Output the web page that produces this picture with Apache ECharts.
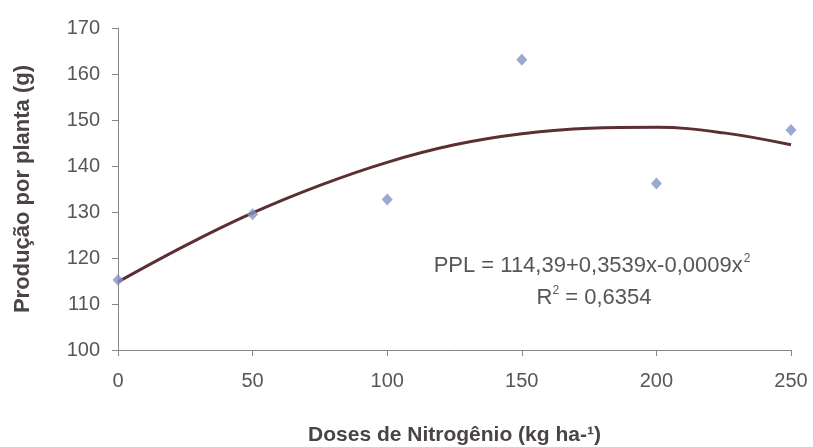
<!DOCTYPE html>
<html>
<head>
<meta charset="utf-8">
<script src="https://cdn.jsdelivr.net/npm/echarts@6/dist/echarts.min.js"></script>
<style>
  html, body { margin: 0; padding: 0; background: #fff; }
  #chart { width: 813px; height: 447px; }
</style>
</head>
<body>
<div id="chart"></div>
<script>
// doses de N (kg/ha) e produção observada
const doses = [0, 50, 100, 150, 200, 250]
const producao = [115.2, 129.5, 132.7, 163.1, 136.2, 147.8]

// curva ajustada
const curvaX = [0, 25, 50, 75, 100, 125, 150, 175, 200, 225, 250]
const curvaY = [114.8, 122.7, 129.8, 135.8, 140.8, 144.6, 147.0, 148.2, 148.4, 147.2, 144.6]

const eixoX = { min: 0, max: 250, interval: 50 }
const eixoY = { min: 100, max: 170, interval: 10 }

const corTexto = '#5a5555'
const fonte = 'Liberation Sans, Arial, sans-serif'

let chart = echarts.init(document.getElementById('chart'))

chart.setOption({
  animation: false,
  backgroundColor: '#fff',
  grid: { left: 118, right: 22, top: 28, bottom: 97, outerBoundsMode: 'none' },
  xAxis: {
    type: 'value',
    min: eixoX.min,
    max: eixoX.max,
    interval: eixoX.interval,
    name: 'Doses de Nitrogênio (kg ha-¹)',
    nameLocation: 'middle',
    nameGap: 75,
    nameTextStyle: { color: '#4a4444', fontSize: 21, fontWeight: 'bold', fontFamily: fonte },
    axisLine: { lineStyle: { color: '#8a8585', width: 1 } },
    axisTick: { show: true, length: 6, lineStyle: { color: '#8a8585' } },
    axisLabel: { color: corTexto, fontSize: 20, fontFamily: fonte, margin: 21 },
    splitLine: { show: false }
  },
  yAxis: {
    type: 'value',
    min: eixoY.min,
    max: eixoY.max,
    interval: eixoY.interval,
    name: 'Produção por planta (g)',
    nameLocation: 'middle',
    nameGap: 84,
    nameTextStyle: { color: '#4a4444', fontSize: 22, fontWeight: 'bold', fontFamily: fonte },
    axisLine: { show: true, lineStyle: { color: '#8a8585', width: 1 } },
    axisTick: { show: true, length: 6, lineStyle: { color: '#8a8585' } },
    axisLabel: { color: corTexto, fontSize: 20, fontFamily: fonte, margin: 18 },
    splitLine: { show: false }
  },
  series: [
    {
      type: 'line',
      data: curvaX.map((x, i) => [x, curvaY[i]]),
      smooth: 0.4,
      showSymbol: false,
      lineStyle: { color: '#5c2f32', width: 3 },
      z: 2
    },
    {
      type: 'scatter',
      data: doses.map((x, i) => [x, producao[i]]),
      symbol: 'diamond',
      symbolSize: [11, 12],
      itemStyle: { color: '#8393c6' },
      z: 3
    }
  ],
  graphic: [
    {
      type: 'text',
      x: 592,
      y: 266,
      style: {
        text: '{t|PPL = 114,39+0,3539x-0,0009x}{s|2}',
        align: 'center',
        verticalAlign: 'middle',
        rich: {
          t: { fontSize: 22, fontFamily: fonte, fill: corTexto },
          s: { fontSize: 12, fontFamily: fonte, fill: corTexto, padding: [0, 0, 14, 1] }
        }
      }
    },
    {
      type: 'text',
      x: 594,
      y: 298,
      style: {
        text: '{t|R}{s|2}{t| = 0,6354}',
        align: 'center',
        verticalAlign: 'middle',
        rich: {
          t: { fontSize: 22, fontFamily: fonte, fill: corTexto },
          s: { fontSize: 12, fontFamily: fonte, fill: corTexto, padding: [0, 0, 14, 0] }
        }
      }
    }
  ]
})
</script>
</body>
</html>
